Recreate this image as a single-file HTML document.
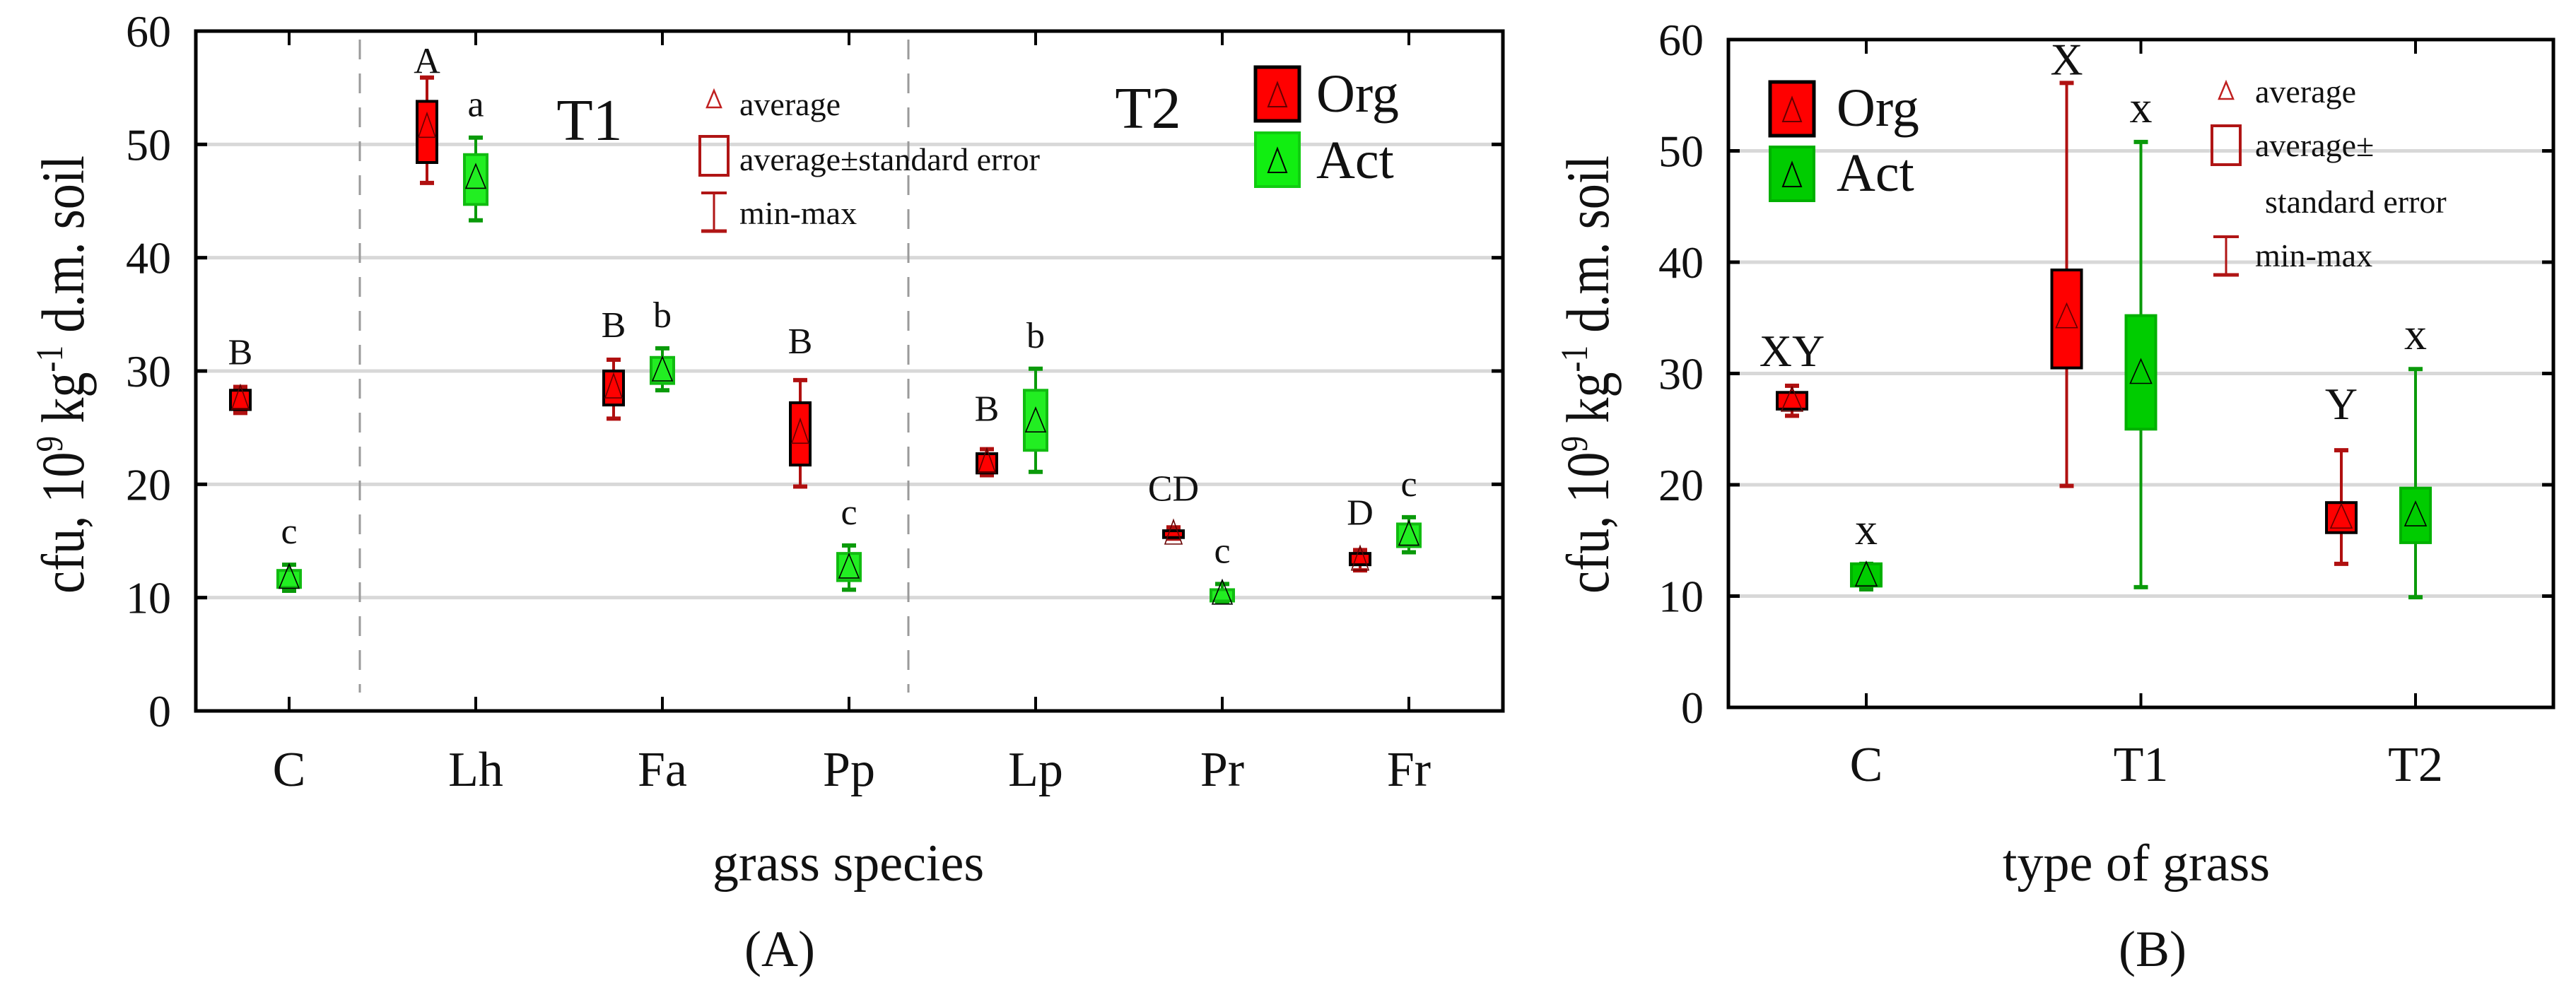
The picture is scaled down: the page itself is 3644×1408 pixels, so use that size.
<!DOCTYPE html>
<html><head><meta charset="utf-8">
<style>
html,body{margin:0;padding:0;background:#fff;}
svg{display:block;font-family:"Liberation Serif",serif;}
</style></head>
<body>
<svg id="fig" width="3644" height="1408" viewBox="0 0 3644 1408" xmlns="http://www.w3.org/2000/svg">
<rect x="0" y="0" width="3644" height="1408" fill="#fff"/>
<g id="panelA"></g>
<g id="panelB"></g>
</svg>
<script>
// ---------- Panel A data ----------
const catsA = ['C','Lh','Fa','Pp','Lp','Pr','Fr'];
const orgMinA  = [26.3, 46.6, 25.8, 19.8, 20.8, 15.2, 12.4];
const orgLoA   = [26.6, 48.4, 27.0, 21.7, 21.0, 15.3, 12.9];
const orgMeanA = [27.5, 51.5, 28.5, 24.5, 21.9, 15.6, 13.3];
const orgHiA   = [28.3, 53.8, 30.0, 27.2, 22.7, 15.9, 13.9];
const orgMaxA  = [28.6, 55.9, 31.0, 29.2, 23.1, 16.2, 14.2];
const actMinA  = [10.6, 43.3, 28.3, 10.7, 21.1, 9.6, 14.0];
const actLoA   = [10.9, 44.7, 28.9, 11.5, 23.0, 9.7, 14.5];
const actMeanA = [11.7, 47.0, 30.0, 12.6, 25.5, 10.3, 15.5];
const actHiA   = [12.4, 49.1, 31.2, 13.9, 28.3, 10.7, 16.5];
const actMaxA  = [12.9, 50.6, 32.0, 14.6, 30.2, 11.2, 17.1];
const orgLettersA = ['B','A','B','B','B','CD','D'];
const actLettersA = ['c','a','b','c','b','c','c'];
const yTicksA = [0,10,20,30,40,50,60];
// ---------- Panel B data ----------
const catsB = ['C','T1','T2'];
const orgMinB  = [26.2, 19.9, 12.9];
const orgLoB   = [26.8, 30.5, 15.7];
const orgMeanB = [27.5, 35.0, 17.0];
const orgHiB   = [28.3, 39.3, 18.4];
const orgMaxB  = [28.9, 56.1, 23.1];
const actMinB  = [10.6, 10.8, 9.9];
const actLoB   = [10.9, 25.0, 14.8];
const actMeanB = [11.8, 30.0, 17.2];
const actHiB   = [12.9, 35.2, 19.7];
const actMaxB  = [12.9, 50.8, 30.4];
const orgLettersB = ['XY','X','Y'];
const actLettersB = ['x','x','x'];
const yTicksB = [0,10,20,30,40,50,60];

const NS='http://www.w3.org/2000/svg';
function mk(parent, tag, attrs, text){
  const e=document.createElementNS(NS,tag);
  for(const k in attrs) e.setAttribute(k, attrs[k]);
  if(text!==undefined) e.textContent=text;
  parent.appendChild(e);
  return e;
}

function drawPanel(g, cfg){
  const y = v => cfg.y0 - (cfg.y0 - cfg.y60) * v / 60;
  const xAct = i => cfg.x0 + i*cfg.step;
  const xOrg = i => xAct(i) + cfg.orgOff;
  cfg.ticks.forEach(t=>{
    if(t>0 && t<60){
      const l=mk(g,'line',{x1:cfg.left,x2:cfg.right,y1:y(t),y2:y(t),stroke:'#d8d8d8','stroke-width':5});
      
      
    }
    const tk=mk(g,'line',{x1:cfg.left,x2:cfg.left+16,y1:y(t),y2:y(t),stroke:'#000','stroke-width':5});
    
    
    const tr=mk(g,'line',{x1:cfg.right-16,x2:cfg.right,y1:y(t),y2:y(t),stroke:'#000','stroke-width':5});
    
    
    const lb=mk(g,'text',{x:cfg.tickLabelX,y:y(t)+22,'text-anchor':'end','font-size':64,fill:'#111'},String(t));
    
    
  });
  (cfg.dashes||[]).forEach((dx,k)=>{
    const d=mk(g,'line',{x1:dx,x2:dx,y1:cfg.top+12,y2:980,stroke:'#9a9a9a','stroke-width':3,'stroke-dasharray':'28 20'});
    
    
  });
  cfg.cats.forEach((c,i)=>{
    const xc=xAct(i);
    const tb=mk(g,'line',{x1:xc,x2:xc,y1:cfg.bottom,y2:cfg.bottom-20,stroke:'#000','stroke-width':4});
    
    
    const tt=mk(g,'line',{x1:xc,x2:xc,y1:cfg.top,y2:cfg.top+20,stroke:'#000','stroke-width':4});
    
    
    const lb=mk(g,'text',{x:xc,y:cfg.catLabelY,'text-anchor':'middle','font-size':70,fill:'#111'},c);
    
    
  });
  const series=[
    {name:'org',x:xOrg,min:cfg.orgMin,lo:cfg.orgLo,mean:cfg.orgMean,hi:cfg.orgHi,max:cfg.orgMax,letters:cfg.orgLetters,
     fill:'#ff0000',stroke:'#000',wh:'#b01010',tri:'#600',w:cfg.orgW},
    {name:'act',x:xAct,min:cfg.actMin,lo:cfg.actLo,mean:cfg.actMean,hi:cfg.actHi,max:cfg.actMax,letters:cfg.actLetters,
     fill:cfg.actFill,stroke:cfg.actStroke,wh:'#0a9a0a',tri:'#000',w:cfg.actW}
  ];
  series.forEach(s=>{
    cfg.cats.forEach((c,i)=>{
      const xc=s.x(i);
      const grp=mk(g,'g',{});
      
      
      mk(grp,'line',{x1:xc,x2:xc,y1:y(s.max[i]),y2:y(s.min[i]),stroke:s.wh,'stroke-width':4});
      mk(grp,'line',{x1:xc-10,x2:xc+10,y1:y(s.max[i]),y2:y(s.max[i]),stroke:s.wh,'stroke-width':6});
      mk(grp,'line',{x1:xc-10,x2:xc+10,y1:y(s.min[i]),y2:y(s.min[i]),stroke:s.wh,'stroke-width':6});
      const top=y(s.hi[i]), bot=y(s.lo[i]);
      mk(grp,'rect',{x:xc-s.w/2,y:top,width:s.w,height:Math.max(bot-top,2),fill:s.fill,stroke:s.stroke,'stroke-width':4});
      const ym=y(s.mean[i]);
      const hw=Math.min(s.w/2-2,15);
      mk(grp,'path',{d:`M${xc-hw},${ym+14} L${xc},${ym-20} L${xc+hw},${ym+14} Z`,fill:'none',stroke:s.tri,'stroke-width':1.6});
      const off = (s.name==='org' && cfg.orgLetterOff) ? cfg.orgLetterOff[i] : cfg.letterOff;
      const lt=mk(g,'text',{x:xc,y:y(s.max[i])-off,'text-anchor':'middle','font-size':cfg.letterSize,fill:'#111'},s.letters[i]);
      
      
    });
  });
  const fr=mk(g,'rect',{x:cfg.left,y:cfg.top,width:cfg.right-cfg.left,height:cfg.bottom-cfg.top,fill:'none',stroke:'#000','stroke-width':5});
  
  
  const yt=mk(g,'text',{transform:`translate(${cfg.yTitleX},${cfg.yTitleMid}) rotate(-90)`,'text-anchor':'middle','font-size':86,fill:'#111',textLength:620,lengthAdjust:'spacingAndGlyphs'});
  
  
  mk(yt,'tspan',{},'cfu, 10');
  mk(yt,'tspan',{dy:-30,'font-size':54},'9');
  mk(yt,'tspan',{dy:30},' kg');
  mk(yt,'tspan',{dy:-30,'font-size':54},'-1');
  mk(yt,'tspan',{dy:30},' d.m. soil');
  const xt=mk(g,'text',{x:cfg.xTitleX,y:1246,'text-anchor':'middle','font-size':74,fill:'#111'},cfg.xTitle);
  
  
  const cp=mk(g,'text',{x:cfg.capX,y:1367,'text-anchor':'middle','font-size':72,fill:'#111'},cfg.caption);
  
  
}

function seriesLegend(g, bx, orgY, actY, tx, orgTY, actTY, actFill, actStroke){
  const lo=mk(g,'g',{});
  
  
  mk(lo,'rect',{x:bx,y:orgY,width:62,height:76,fill:'#ff0000',stroke:'#000','stroke-width':5});
  mk(lo,'path',{d:`M${bx+18},${orgY+56} L${bx+31},${orgY+22} L${bx+44},${orgY+56} Z`,fill:'none',stroke:'#600','stroke-width':2});
  mk(lo,'text',{x:tx,y:orgTY,'font-size':76,fill:'#111'},'Org');
  const la=mk(g,'g',{});
  
  
  mk(la,'rect',{x:bx,y:actY,width:62,height:76,fill:actFill,stroke:actStroke,'stroke-width':4});
  mk(la,'path',{d:`M${bx+18},${actY+56} L${bx+31},${actY+22} L${bx+44},${actY+56} Z`,fill:'none',stroke:'#000','stroke-width':2});
  mk(la,'text',{x:tx,y:actTY,'font-size':76,fill:'#111'},'Act');
}

function statLegend(g, ix, rows){
  const [triY, boxY, barY, tx, avgTY, seTY, se2TY, mmTY] = rows;
  const e1=mk(g,'g',{});
  
  
  mk(e1,'path',{d:`M${ix+10},${triY+24} L${ix+20},${triY} L${ix+30},${triY+24} Z`,fill:'none',stroke:'#c02020','stroke-width':2.5});
  mk(e1,'text',{x:tx,y:avgTY,'font-size':46,fill:'#111'},'average');
  const e2=mk(g,'g',{});
  
  
  mk(e2,'rect',{x:ix,y:boxY,width:40,height:55,fill:'none',stroke:'#b01515','stroke-width':4});
  if(se2TY){
    mk(e2,'text',{x:tx,y:seTY,'font-size':46,fill:'#111'},'average±');
    mk(e2,'text',{x:tx+14,y:se2TY,'font-size':46,fill:'#111'},'standard error');
  } else {
    mk(e2,'text',{x:tx,y:seTY,'font-size':46,fill:'#111'},'average±standard error');
  }
  const e3=mk(g,'g',{});
  
  
  mk(e3,'line',{x1:ix+20,x2:ix+20,y1:barY,y2:barY+54,stroke:'#b01515','stroke-width':3});
  mk(e3,'line',{x1:ix+2,x2:ix+38,y1:barY,y2:barY,stroke:'#b01515','stroke-width':4});
  mk(e3,'line',{x1:ix+2,x2:ix+38,y1:barY+54,y2:barY+54,stroke:'#b01515','stroke-width':5});
  mk(e3,'text',{x:tx,y:mmTY,'font-size':46,fill:'#111'},'min-max');
}

const gA=document.getElementById('panelA');
drawPanel(gA,{
  cats:catsA, ticks:yTicksA, left:277, right:2126, top:44, bottom:1006, y0:1006, y60:44,
  x0:409, step:264, orgOff:-69, orgW:28, actW:32, actFill:'#22ee22', actStroke:'#11bb11',
  orgMin:orgMinA, orgLo:orgLoA, orgMean:orgMeanA, orgHi:orgHiA, orgMax:orgMaxA, orgLetters:orgLettersA,
  actMin:actMinA, actLo:actLoA, actMean:actMeanA, actHi:actHiA, actMax:actMaxA, actLetters:actLettersA,
  letterOff:30, orgLetterOff:[32,6,32,38,40,38,36], letterSize:52, tickLabelX:242, catLabelY:1112, dashes:[509,1285],
  yTitleX:118, yTitleMid:530, xTitleX:1200, xTitle:'grass species', capX:1103, caption:'(A)'
});
const t1=mk(gA,'text',{x:834,y:198,'text-anchor':'middle','font-size':84,fill:'#111'},'T1');


const t2=mk(gA,'text',{x:1624,y:181,'text-anchor':'middle','font-size':84,fill:'#111'},'T2');


statLegend(gA, 990, [128, 193, 273, 1046, 163, 241, null, 317]);
seriesLegend(gA, 1776, 95, 188, 1862, 158, 252, '#11ee11', '#11cc11');

const gB=document.getElementById('panelB');
drawPanel(gB,{
  cats:catsB, ticks:yTicksB, left:2445, right:3612, top:56, bottom:1001, y0:1001, y60:56,
  x0:2640, step:388.5, orgOff:-105, orgW:42, actW:42, actFill:'#00cc00', actStroke:'#00b000',
  orgMin:orgMinB, orgLo:orgLoB, orgMean:orgMeanB, orgHi:orgHiB, orgMax:orgMaxB, orgLetters:orgLettersB,
  actMin:actMinB, actLo:actLoB, actMean:actMeanB, actHi:actHiB, actMax:actMaxB, actLetters:actLettersB,
  letterOff:28, orgLetterOff:[28,12,44], letterSize:64, tickLabelX:2410, catLabelY:1105, dashes:[],
  yTitleX:2275, yTitleMid:530, xTitleX:3022, xTitle:'type of grass', capX:3045, caption:'(B)'
});
statLegend(gB, 3129, [116, 178, 335, 3190, 145, 221, 301, 377]);
seriesLegend(gB, 2504, 116, 208, 2598, 178, 270, '#00cc00', '#00b000');
</script>
</body></html>
